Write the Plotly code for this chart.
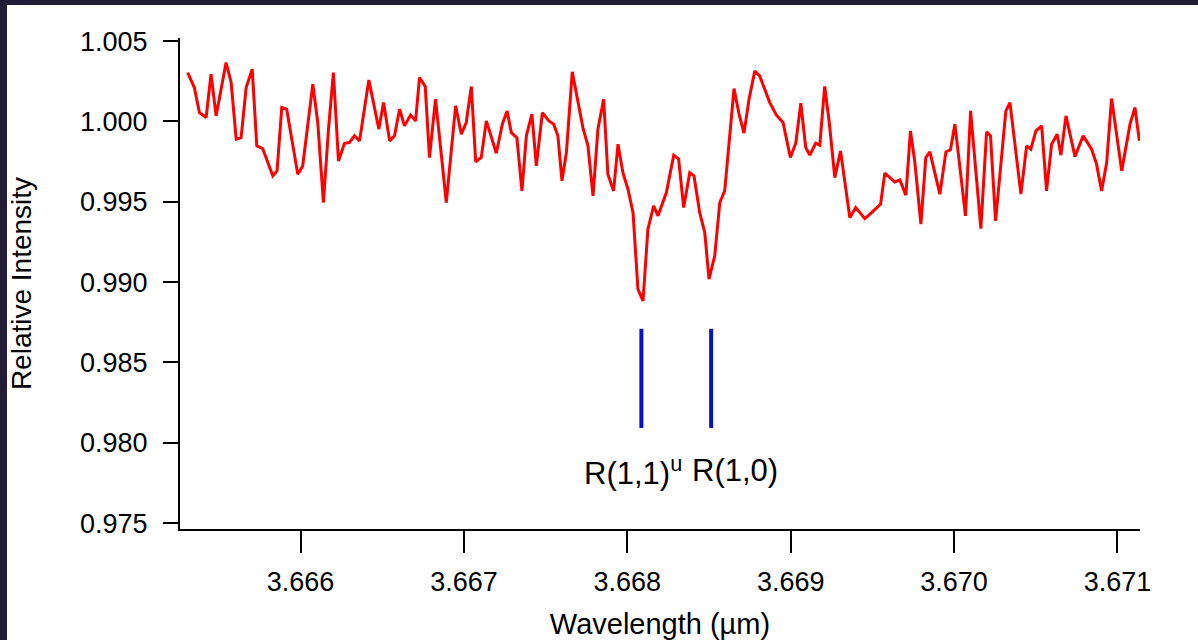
import plotly.graph_objects as go

wavelength_um = [
    3.665309, 3.665350, 3.665381, 3.665422, 3.665452, 3.665483, 3.665544, 3.665575, 3.665606, 3.665636,
    3.665667, 3.665704, 3.665732, 3.665768, 3.665830, 3.665856, 3.665885, 3.665915, 3.665983, 3.666013,
    3.666075, 3.666105, 3.666140, 3.666171, 3.666201, 3.666232, 3.666269, 3.666299, 3.666330, 3.666361,
    3.666418, 3.666479, 3.666508, 3.666545, 3.666575, 3.666606, 3.666636, 3.666673, 3.666704, 3.666728,
    3.666763, 3.666789, 3.666826, 3.666892, 3.666949, 3.666984, 3.667014, 3.667045, 3.667072, 3.667106,
    3.667137, 3.667198, 3.667235, 3.667264, 3.667290, 3.667324, 3.667355, 3.667382, 3.667416, 3.667443,
    3.667480, 3.667520, 3.667549, 3.667575, 3.667600, 3.667627, 3.667663, 3.667698, 3.667728, 3.667759,
    3.667790, 3.667820, 3.667855, 3.667881, 3.667916, 3.667943, 3.667973, 3.668004, 3.668035, 3.668065,
    3.668096, 3.668126, 3.668161, 3.668188, 3.668239, 3.668284, 3.668314, 3.668345, 3.668382, 3.668408,
    3.668443, 3.668474, 3.668500, 3.668535, 3.668566, 3.668596, 3.668627, 3.668653, 3.668684, 3.668714,
    3.668745, 3.668780, 3.668810, 3.668872, 3.668913, 3.668953, 3.668998, 3.669031, 3.669062, 3.669092,
    3.669117, 3.669153, 3.669178, 3.669208, 3.669236, 3.669270, 3.669305, 3.669331, 3.669362, 3.669398,
    3.669454, 3.669495, 3.669550, 3.669576, 3.669637, 3.669668, 3.669705, 3.669733, 3.669760, 3.669797,
    3.669827, 3.669852, 3.669913, 3.669950, 3.669978, 3.670005, 3.670070, 3.670101, 3.670164, 3.670199,
    3.670223, 3.670254, 3.670317, 3.670342, 3.670409, 3.670444, 3.670470, 3.670501, 3.670536, 3.670566,
    3.670597, 3.670631, 3.670654, 3.670685, 3.670740, 3.670790, 3.670842, 3.670872, 3.670903, 3.670934,
    3.670964, 3.671026, 3.671077, 3.671107, 3.671134,
]

relative_intensity = [
    1.00304, 1.00210, 1.00055, 1.00024, 1.00294, 1.00034, 1.00366, 1.00242, 0.99889, 0.99899,
    1.00210, 1.00325, 0.99848, 0.99831, 0.99661, 0.99692, 1.00086, 1.00076, 0.99671, 0.99723,
    1.00232, 0.99993, 0.99495, 0.99952, 1.00304, 0.99754, 0.99864, 0.99868, 0.99910, 0.99879,
    1.00258, 0.99952, 1.00117, 0.99879, 0.99910, 1.00076, 0.99972, 1.00039, 1.00003, 1.00273,
    1.00217, 0.99775, 1.00138, 0.99495, 1.00097, 0.99920, 0.99993, 1.00217, 0.99748, 0.99775,
    1.00003, 0.99802, 0.99983, 1.00065, 0.99930, 0.99899, 0.99567, 0.99910, 1.00045, 0.99723,
    1.00055, 1.00003, 0.99983, 0.99910, 0.99630, 0.99806, 1.00308, 1.00117, 0.99961, 0.99848,
    0.99536, 0.99952, 1.00138, 0.99671, 0.99567, 0.99858, 0.99681, 0.99578, 0.99432, 0.98956,
    0.98883, 0.99329, 0.99474, 0.99412, 0.99557, 0.99790, 0.99765, 0.99464, 0.99681, 0.99661,
    0.99432, 0.99308, 0.99018, 0.99163, 0.99495, 0.99567, 0.99910, 1.00204, 1.00045, 0.99927,
    1.00138, 1.00314, 1.00283, 1.00117, 1.00039, 0.99993, 0.99775, 0.99864, 1.00113, 0.99837,
    0.99790, 0.99864, 0.99852, 1.00218, 0.99993, 0.99650, 0.99816, 0.99619, 0.99401, 0.99464,
    0.99395, 0.99432, 0.99485, 0.99678, 0.99623, 0.99636, 0.99541, 0.99941, 0.99744, 0.99360,
    0.99775, 0.99810, 0.99547, 0.99810, 0.99823, 0.99983, 0.99412, 1.00065, 0.99333, 0.99935,
    0.99910, 0.99381, 1.00065, 1.00117, 0.99547, 0.99848, 0.99827, 0.99941, 0.99972, 0.99567,
    0.99858, 0.99920, 0.99790, 1.00034, 0.99781, 0.99910, 0.99827, 0.99734, 0.99567, 0.99744,
    1.00142, 0.99692, 0.99983, 1.00086, 0.99879,
]

line_names = ["R(1,1)<sup>u</sup>", "R(1,0)"]
line_positions_um = [3.668086, 3.668513]
marker_bottom = 0.98092
marker_top = 0.98709
label_y = 0.97825
label_x_um = [3.668033, 3.668657]

x_ticks = [3.666, 3.667, 3.668, 3.669, 3.670, 3.671]
x_tick_text = ["3.666", "3.667", "3.668", "3.669", "3.670", "3.671"]
y_ticks = [0.975, 0.980, 0.985, 0.990, 0.995, 1.000, 1.005]
y_tick_text = ["0.975", "0.980", "0.985", "0.990", "0.995", "1.000", "1.005"]

x_range = [3.665262, 3.671138]
y_range = [0.97463, 1.00519]

FONT = "Liberation Sans, Arial, sans-serif"

fig = go.Figure()

fig.add_trace(go.Scatter(
    x=wavelength_um, y=relative_intensity, mode="lines",
    line=dict(color="#ff0000", width=3), showlegend=False, hoverinfo="x+y",
))

for pos in line_positions_um:
    fig.add_trace(go.Scatter(
        x=[pos, pos], y=[marker_bottom, marker_top], mode="lines",
        line=dict(color="#0a10c8", width=4), showlegend=False,
    ))

for name, lx in zip(line_names, label_x_um):
    fig.add_annotation(
        x=lx, y=label_y, xref="x", yref="y", text=name, showarrow=False,
        font=dict(family=FONT, size=31, color="#000000"),
        xanchor="center", yanchor="middle",
    )

# white page panel over the dark starry border
fig.add_shape(
    type="rect", xref="paper", yref="paper",
    x0=-0.18021, x1=1.07, y0=-0.24, y1=1.06721,
    fillcolor="#ffffff", line=dict(width=0), layer="below",
)

fig.update_layout(
    width=1198, height=640,
    margin=dict(l=180, r=58, t=38, b=111, pad=0, autoexpand=False),
    paper_bgcolor="#221d36", plot_bgcolor="#ffffff",
    font=dict(family=FONT, size=27, color="#000000"),
    xaxis=dict(
        range=x_range, tickmode="array", tickvals=x_ticks, ticktext=x_tick_text,
        showgrid=False, zeroline=False, showline=True, linecolor="#000000", linewidth=2,
        ticks="outside", ticklen=22, tickwidth=1.5, tickcolor="#000000",
        ticklabelstandoff=6, automargin=False,
        tickfont=dict(family=FONT, size=27, color="#000000"),
        title=dict(text="Wavelength (µm)", font=dict(family=FONT, size=29, color="#000000"), standoff=17),
    ),
    yaxis=dict(
        range=y_range, tickmode="array", tickvals=y_ticks, ticktext=y_tick_text,
        showgrid=False, zeroline=False, showline=True, linecolor="#000000", linewidth=2,
        ticks="outside", ticklen=15, tickwidth=1.5, tickcolor="#000000",
        ticklabelstandoff=10, automargin=False,
        tickfont=dict(family=FONT, size=27, color="#000000"),
        title=dict(text="Relative Intensity", font=dict(family=FONT, size=28, color="#000000"), standoff=40),
    ),
)

fig.write_html("out.html")
